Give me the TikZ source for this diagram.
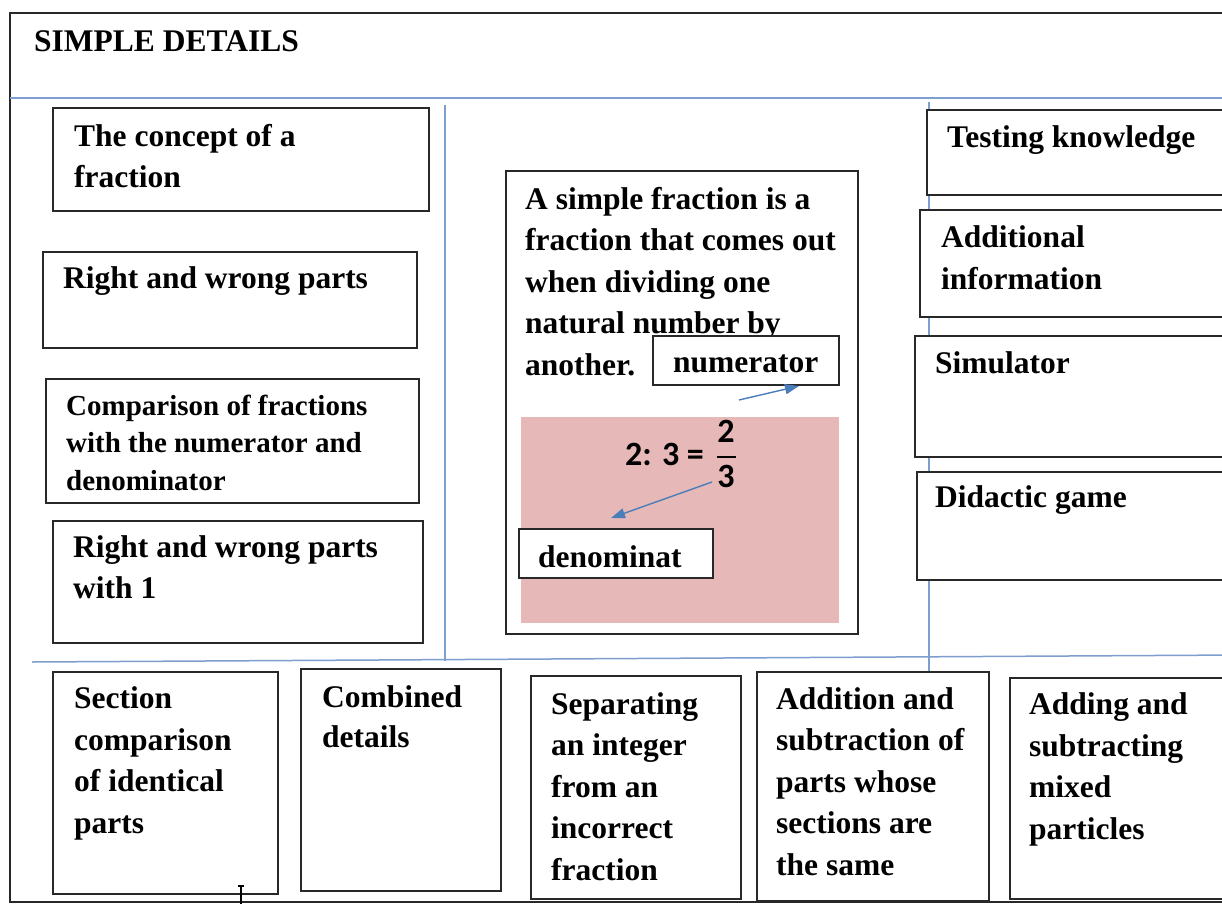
\documentclass[tikz,border=0pt]{standalone}
\usepackage{fontspec}
\setmainfont{Liberation Serif}
\newfontfamily\digitfont{Carlito}
\usetikzlibrary{arrows.meta}

\definecolor{framegray}{RGB}{40,40,40}
\definecolor{gridblue}{RGB}{125,158,206}
\definecolor{arrowblue}{RGB}{74,126,187}
\definecolor{formulapink}{RGB}{230,184,183}

% multi-line texts are placed by the baseline of their last line
\tikzset{
  box/.style={draw=framegray, line width=1.7pt, fill=white, rectangle,
              anchor=north west, inner sep=0pt},
  txt/.style={anchor=base west, inner sep=0pt, align=left,
              font=\fontsize{31.5}{41.5}\selectfont\bfseries},
  smalltxt/.style={txt, font=\fontsize{29}{37.5}\selectfont\bfseries},
  grid/.style={draw=gridblue, line width=1.5pt},
  pointer/.style={draw=arrowblue, line width=1.4pt,
                  -{Triangle[length=14pt, width=10pt]}},
  digits/.style={inner sep=0pt, font=\fontsize{34}{36}\selectfont\digitfont\bfseries},
}

\begin{document}
\begin{tikzpicture}[x=1pt, y=-1pt]
\useasboundingbox (0,0) rectangle (1222,904);
\clip (0,0) rectangle (1222,904);
\fill[white] (0,0) rectangle (1222,904);

% outer frame and the blue layout lines
\draw[framegray, line width=1.7pt] (10,13) rectangle (1260,902);
\coordinate (topL) at (10,98);
\coordinate (topR) at (1240,98);
\coordinate (botL) at (32,662);
\coordinate (botR) at (1240,655);
\coordinate (v1t) at (445,105);
\coordinate (v1b) at (445,661);
\coordinate (v2t) at (929,102);
\coordinate (v2b) at (929,671);
\draw[grid] (topL) -- (topR);
\draw[grid] (botL) -- (botR);
\draw[grid] (v1t) -- (v1b);
\draw[grid] (v2t) -- (v2b);

\node[txt] (title) at (34,52) {SIMPLE DETAILS};

% left column
\node[box, minimum width=376pt, minimum height=103pt] (concept) at (52,107) {};
\node[txt] (conceptT) at (74,187) {The concept of a\\[-1.5pt]fraction};

\node[box, minimum width=374pt, minimum height=96pt] (rw) at (42,251) {};
\node[txt] (rwT) at (63,288) {Right and wrong parts};

\node[box, minimum width=373pt, minimum height=124pt] (cmp) at (45,378) {};
\node[smalltxt] (cmpT) at (66,490) {Comparison of fractions\\with the numerator and\\denominator};

\node[box, minimum width=370pt, minimum height=122pt] (rw1) at (52,520) {};
\node[txt] (rw1T) at (73,598) {Right and wrong parts\\[-0.5pt]with 1};

% centre: definition and example
\node[box, minimum width=352pt, minimum height=463pt] (defn) at (505,170) {};
\node[txt] (defnT) at (525,375) {A simple fraction is a\\fraction that comes out\\when dividing one\\natural number by\\another.};
\fill[formulapink] (521,417) rectangle (839,623);

% 2 : 3 = 2/3
\node[digits, anchor=base west] (lhs) at (625,465) {2: 3 =};
\node[digits, anchor=base] (numer) at (726,442) {2};
\node[digits, anchor=base] (denom) at (726,487) {3};
\coordinate (barL) at (717,457);
\coordinate (barR) at (736,457);
\draw[black, line width=2pt] (barL) -- (barR);

\node[box, minimum width=186pt, minimum height=49pt] (num) at (652,335) {};
\node[txt] (numT) at (673,372) {numerator};
\node[box, minimum width=194pt, minimum height=49pt] (den) at (518,528) {};
\node[txt] (denT) at (538,567) {denominat};

\coordinate (numFrom) at (739,400);
\coordinate (numTo) at (799,386);
\coordinate (denFrom) at (712,482);
\coordinate (denTo) at (611,518);
\draw[pointer] (numFrom) -- (numTo);
\draw[pointer] (denFrom) -- (denTo);

% right column
\node[box, minimum width=330pt, minimum height=85pt] (test) at (926,109) {};
\node[txt] (testT) at (947,148) {Testing knowledge};
\node[box, minimum width=330pt, minimum height=107pt] (add) at (919,209) {};
\node[txt] (addT) at (941,289) {Additional\\information};
\node[box, minimum width=330pt, minimum height=121pt] (sim) at (914,335) {};
\node[txt] (simT) at (935,373) {Simulator};
\node[box, minimum width=330pt, minimum height=108pt] (game) at (916,471) {};
\node[txt] (gameT) at (935,507) {Didactic game};

% bottom row
\node[box, minimum width=225pt, minimum height=222pt] (sect) at (52,671) {};
\node[txt] (sectT) at (74,833) {Section\\comparison\\of identical\\parts};
\node[box, minimum width=200pt, minimum height=222pt] (comb) at (300,668) {};
\node[txt] (combT) at (322,747) {Combined\\[-1.5pt]details};
\node[box, minimum width=210pt, minimum height=223pt] (sep) at (530,675) {};
\node[txt] (sepT) at (551,880) {Separating\\an integer\\from an\\incorrect\\fraction};
\node[box, minimum width=232pt, minimum height=229pt] (addsub) at (756,671) {};
\node[txt] (addsubT) at (776,875) {Addition and\\subtraction of\\parts whose\\sections are\\the same};
\node[box, minimum width=260pt, minimum height=221pt] (mixed) at (1009,677) {};
\node[txt] (mixedT) at (1029,839) {Adding and\\subtracting\\mixed\\particles};

% text cursor mark at the lower edge
\coordinate (curT) at (241,885);
\coordinate (curB) at (241,904);
\draw[black, line width=1.6pt] (curT) -- (curB);
\draw[black, line width=1.2pt] (238,886) -- (244,886);
\end{tikzpicture}
\end{document}
